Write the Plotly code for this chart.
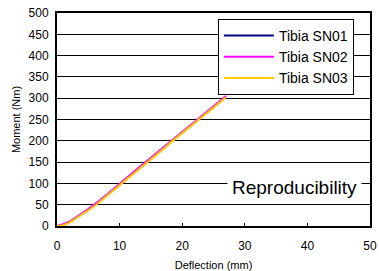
import plotly.graph_objects as go

deflection = [0, 1, 2, 3, 4, 5, 6, 7, 8, 9, 10, 11, 12, 13, 14, 15, 16, 17, 18, 19, 20, 21, 22, 23, 24, 25, 26, 27]
sn01 = [0, 3, 9, 18, 28, 38, 48, 60, 72, 85, 97, 109, 122, 134, 146, 158, 170, 182, 195, 207, 219, 231, 243, 256, 268, 280, 292, 303]
sn02 = [0, 4, 10, 19, 30, 40, 50, 62, 74, 87, 99, 111, 124, 136, 148, 160, 172, 184, 197, 209, 221, 233, 245, 258, 270, 282, 294, 305]
sn03 = [0, 2, 8, 17, 27, 37, 47, 59, 71, 84, 96, 108, 121, 133, 145, 157, 169, 181, 194, 206, 218, 230, 242, 255, 267, 279, 291, 302]

names = ["Tibia SN01", "Tibia SN02", "Tibia SN03"]
colors = ["#000080", "#FF00FF", "#FFCC00"]
series = [sn01, sn02, sn03]

x_ticks = [0, 10, 20, 30, 40, 50]
y_ticks = [0, 50, 100, 150, 200, 250, 300, 350, 400, 450, 500]

fig = go.Figure()
for name, col, ys in zip(names, colors, series):
    fig.add_trace(go.Scatter(x=deflection, y=ys, mode="lines", name=name,
                             line=dict(color=col, width=2)))

font = "Liberation Sans, Arial, sans-serif"
fig.update_layout(
    width=379, height=271,
    margin=dict(l=57, r=9, t=13, b=45, autoexpand=False),
    paper_bgcolor="white", plot_bgcolor="white",
    font=dict(family=font, color="black", size=12),
    showlegend=True,
    legend=dict(x=0.514, y=0.972, xanchor="left", yanchor="top",
                bgcolor="white", bordercolor="black", borderwidth=1,
                font=dict(size=14, family=font), itemwidth=50,
                tracegroupgap=0),
    xaxis=dict(range=[0, 50], tickvals=x_ticks, showgrid=False,
               showline=True, linecolor="black", linewidth=2, mirror=True,
               ticks="inside", ticklen=3, tickcolor="black",
               tickfont=dict(size=12), zeroline=False, automargin=False,
               ticklabelstandoff=8,
               title=dict(text="Deflection (mm)", font=dict(size=11), standoff=15)),
    yaxis=dict(range=[0, 500], tickvals=y_ticks, showgrid=True,
               gridcolor="black", gridwidth=1,
               showline=True, linecolor="black", linewidth=2, mirror=True,
               ticks="", tickfont=dict(size=12), zeroline=False, automargin=False,
               ticklabelstandoff=4,
               title=dict(text="Moment (Nm)", font=dict(size=11), standoff=6)),
    annotations=[dict(x=37.9, y=90, xref="x", yref="y", text="Reproducibility",
                      showarrow=False, font=dict(size=19, family=font),
                      bgcolor="white", borderpad=4)],
)

fig.write_html("out.html", config={"displayModeBar": False},
               post_script="document.body.style.margin='0';")
